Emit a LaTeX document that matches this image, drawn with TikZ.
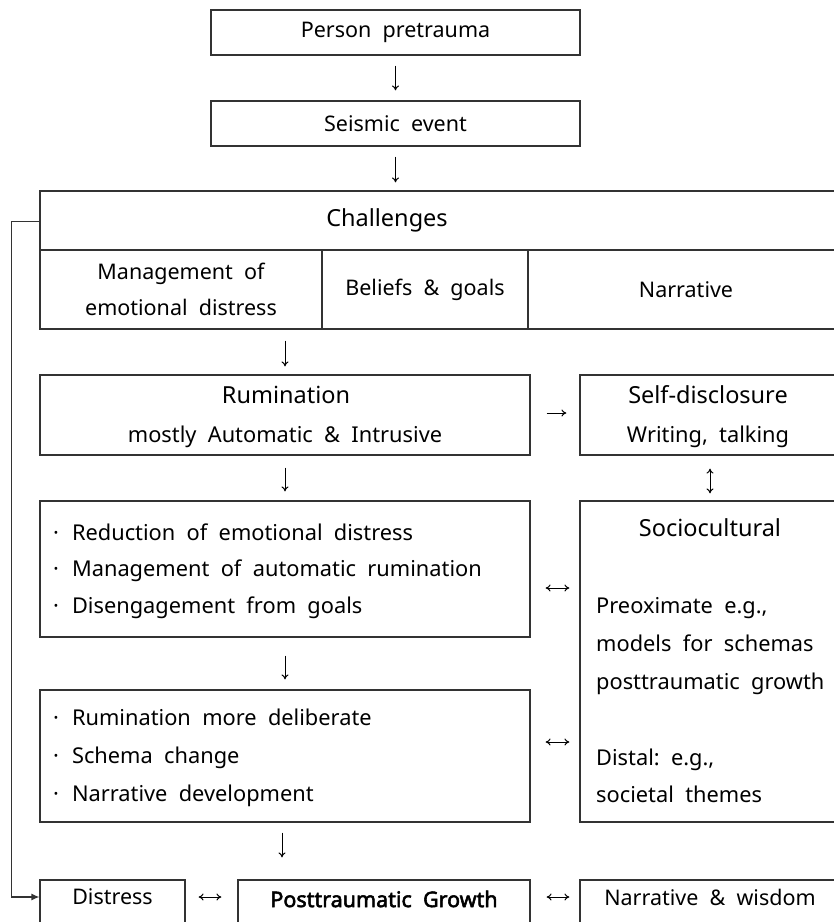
\documentclass[tikz,border=0pt]{standalone}
\usepackage{fontspec}
\setmainfont{Noto Sans}
\newfontfamily\ptgfont{Noto Sans}[FakeBold=2.5]
\usetikzlibrary{arrows.meta,calc}
\tikzset{
  box/.style={draw=black!80, line width=1.2pt, inner sep=0pt},
  arr/.style={-{To[length=5pt,width=7pt]}, line width=1pt},
  darr/.style={{To[length=5pt,width=7pt]}-{To[length=5pt,width=7pt]}, line width=1pt},
  fbarr/.style={-{Latex[length=8pt,width=7pt]}, line width=1.2pt, draw=black!80},
  tsm/.style={font=\fontsize{21.5}{25}\selectfont, inner sep=0pt},
  thd/.style={font=\fontsize{23.5}{28}\selectfont, inner sep=0pt},
  tbd/.style={font=\fontsize{21.8}{26}\selectfont, inner sep=0pt},
  tlist/.style={font=\fontsize{21.8}{26}\selectfont, inner sep=0pt, anchor=base west},
}
\begin{document}
\begin{tikzpicture}[x=1pt,y=-1pt]
\path[use as bounding box, fill=white] (0,0) rectangle (834,922);
\clip (0,0) rectangle (834,922);
% top boxes
\node[box, minimum width=369, minimum height=45, tsm] (pp) at (395.5,32.5) {Person\ \ pretrauma};
\node[box, minimum width=369, minimum height=45, tsm] (se) at (395.5,123.5) {Seismic\ \ event};
% challenges
\node[box, minimum width=800, minimum height=138] (chal) at (440,260) {};
\node[box, minimum width=800, minimum height=59] (chtop) at (440,220.5) {};
\node[box, minimum width=282, minimum height=79] (c1) at (181,289.5) {};
\node[box, minimum width=206, minimum height=79] (c2) at (425,289.5) {};
\node[box, minimum width=312, minimum height=79] (c3) at (684,289.5) {};
\node[thd] (tch) at (387,220) {Challenges};
\node[tsm, align=center] (tc1) at (181,289) {Management\ \ of\\[11pt]emotional\ \ distress};
\node[tsm] (tc2) at (425,290) {Beliefs\ \ \&\ \ goals};
\node[tsm] (tc3) at (686,290) {Narrative};
% rumination & self-disclosure
\node[box, minimum width=490, minimum height=80] (rum) at (285,415) {};
\node[thd] (trum1) at (286,395) {Rumination};
\node[tbd] (trum2) at (285,437) {mostly\ \ Automatic\ \ \&\ \ Intrusive};
\node[box, minimum width=260, minimum height=80] (sd) at (710,415) {};
\node[thd] (tsd1) at (708,395) {Self-disclosure};
\node[tbd] (tsd2) at (708,437) {Writing,\ \ talking};
% box3
\node[box, minimum width=490, minimum height=136] (b3) at (285,569) {};
\node[tlist] (l31) at (53,540) {·\hspace{13pt}Reduction\ \ of\ \ emotional\ \ distress};
\node[tlist] (l32) at (53,576) {·\hspace{13pt}Management\ \ of\ \ automatic\ \ rumination};
\node[tlist] (l33) at (53,613) {·\hspace{13pt}Disengagement\ \ from\ \ goals};
% sociocultural
\node[box, minimum width=260, minimum height=321] (soc) at (710,661.5) {};
\node[thd] (tsoc) at (710,528) {Sociocultural};
\node[tlist] (s1) at (596,613) {Preoximate\ \ e.g.,};
\node[tlist] (s2) at (596,651) {models\ \ for\ \ schemas};
\node[tlist] (s3) at (596,689) {posttraumatic\ \ growth};
\node[tlist] (s4) at (596,765) {Distal:\ \ e.g.,};
\node[tlist] (s5) at (596,802) {societal\ \ themes};
% box4
\node[box, minimum width=490, minimum height=132] (b4) at (285,756) {};
\node[tlist] (l41) at (53,725) {·\hspace{13pt}Rumination\ \ more\ \ deliberate};
\node[tlist] (l42) at (53,763) {·\hspace{13pt}Schema\ \ change};
\node[tlist] (l43) at (53,801) {·\hspace{13pt}Narrative\ \ development};
% bottom row
\node[box, minimum width=145, minimum height=80] (dis) at (112.5,920) {};
\node[tsm] (tdis) at (112.5,897) {Distress};
\node[box, minimum width=292, minimum height=80] (ptg) at (384,920) {};
\node[tsm, font=\fontsize{21.5}{25}\ptgfont] (tptg) at (384,899) {Posttraumatic\ \ Growth};
\node[box, minimum width=260, minimum height=80] (nw) at (710,920) {};
\node[tsm] (tnw) at (710,897) {Narrative\ \ \&\ \ wisdom};
% vertical arrows
\draw[arr, shorten <=10pt, shorten >=10pt] (pp.south) -- (se.north);
\draw[arr, shorten <=10pt, shorten >=8pt] (se.south) -- (se.south |- chal.north);
\draw[arr, shorten <=11pt, shorten >=8pt] (rum.north |- chal.south) -- (rum.north);
\draw[arr, shorten <=12pt, shorten >=9pt] (rum.south) -- (b3.north);
\draw[arr, shorten <=18pt, shorten >=10pt] (b3.south) -- (b4.north);
\draw[arr, shorten <=10pt, shorten >=22pt] ($(b4.south)+(-3,0)$) -- ($(b4.south |- ptg.north)+(-3,0)$);
\draw[darr, shorten <=13pt, shorten >=7pt] (sd.south) -- (sd.south |- soc.north);
% horizontal arrows
\draw[arr, shorten <=16pt, shorten >=13pt] ($(rum.east)+(0,-2)$) -- ($(rum.east -| sd.west)+(0,-2)$);
\draw[darr, shorten <=15pt, shorten >=10pt] ($(b3.east)+(0,19)$) -- ($(b3.east -| soc.west)+(0,19)$);
\draw[darr, shorten <=15pt, shorten >=10pt] ($(b4.east)+(0,-14)$) -- ($(b4.east -| soc.west)+(0,-14)$);
\draw[darr, shorten <=13pt, shorten >=16pt] (dis.east |- tdis.east) -- (ptg.west |- tdis.east);
\draw[darr, shorten <=16pt, shorten >=10pt] (ptg.east |- tdis.east) -- (nw.west |- tdis.east);
% feedback loop
\coordinate (fb) at ($(chal.north west)+(0,31)$);
\draw[fbarr] (fb) -- ++(-28,0) |- (dis.west |- tdis.west);
\end{tikzpicture}
\end{document}
